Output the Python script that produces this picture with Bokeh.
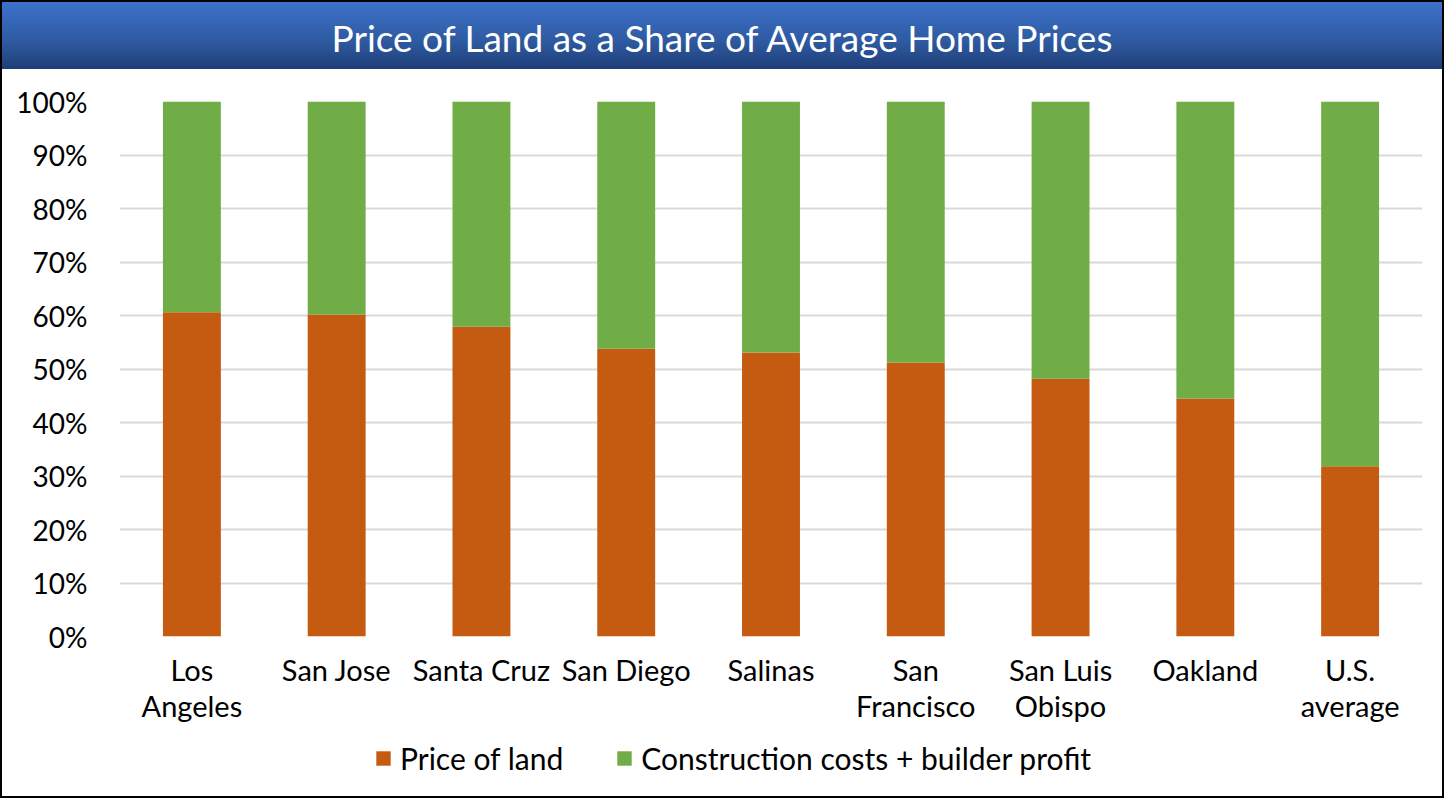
from bokeh.plotting import figure
from bokeh.layouts import column
from bokeh.models import (FactorRange, FixedTicker, NumeralTickFormatter, ColumnDataSource,
                          Range1d, Legend, Div)
from bokeh.embed import file_html
from bokeh.resources import INLINE

cities = ["Los\nAngeles", "San Jose", "Santa Cruz", "San Diego", "Salinas",
          "San\nFrancisco", "San Luis\nObispo", "Oakland", "U.S.\naverage"]
land_share = [0.606, 0.602, 0.579, 0.538, 0.531, 0.512, 0.482, 0.445, 0.318]
construction_share = [round(1 - v, 3) for v in land_share]
y_ticks = [0, 0.1, 0.2, 0.3, 0.4, 0.5, 0.6, 0.7, 0.8, 0.9, 1.0]
series_names = ["Price of land", "Construction costs + builder profit"]
series_colors = ["#C55A11", "#70AD47"]
title_text = "Price of Land as a Share of Average Home Prices"

FONT = "Lato"
W = 1440
BANNER_H = 67
MAIN_H = 662
LEG_H = 65

# ---------------- title banner ----------------
banner = Div(
    text=('<div style="width:%dpx;height:%dpx;line-height:72px;text-align:center;overflow:hidden;'
          'color:white;font-family:Lato;font-size:37px;white-space:nowrap;">%s</div>')
         % (W, BANNER_H, title_text),
    width=W, height=BANNER_H,
    styles={"background": "linear-gradient(to bottom, #3C72CC 0%, #2E599F 60%, #1F3E78 100%)",
            "margin": "0", "padding": "0"})

# ---------------- main chart ----------------
src = ColumnDataSource(dict(city=cities, land=land_share, constr=construction_share))

p = figure(width=W, height=MAIN_H, x_range=FactorRange(factors=cities, range_padding=0),
           y_range=Range1d(0, 1), output_backend="svg", toolbar_location=None,
           min_border_left=117, min_border_right=20, min_border_top=32, min_border_bottom=95)

renderers = p.vbar_stack(["land", "constr"], x="city", width=0.4, color=series_colors,
                         line_color=None, source=src)

p.outline_line_color = None

p.yaxis.ticker = FixedTicker(ticks=y_ticks)
p.yaxis.formatter = NumeralTickFormatter(format="0%")
p.yaxis.axis_line_color = None
p.yaxis.major_tick_line_color = None
p.yaxis.minor_tick_line_color = None
p.yaxis.major_label_standoff = 26
p.yaxis.major_label_text_font = FONT
p.yaxis.major_label_text_font_size = "28px"
p.yaxis.major_label_text_color = "black"

ax = p.xaxis[0]
ax.axis_line_color = None
ax.major_tick_line_color = None
ax.major_tick_out = 0
ax.major_tick_in = 0
ax.major_label_standoff = 15
ax.major_label_text_font = FONT
ax.major_label_text_font_size = "29px"
ax.major_label_text_color = "black"
ax.major_label_text_line_height = 1.05

p.xgrid.grid_line_color = None
p.ygrid.grid_line_color = "#D9D9D9"
p.ygrid.grid_line_width = 2

# ---------------- legend strip ----------------
lf = figure(width=W, height=LEG_H, x_range=Range1d(0, 1), y_range=Range1d(0, 1),
            output_backend="svg", toolbar_location=None, x_axis_type=None, y_axis_type=None,
            min_border_left=117, min_border_right=20, min_border_top=0, min_border_bottom=0)
lf.outline_line_color = None
lf.xgrid.grid_line_color = None
lf.ygrid.grid_line_color = None
# swatch renderers placed far outside the visible ranges; they only feed the legend
leg_renderers = [lf.vbar(x=[-50.0], bottom=[-60.0], top=[-55.0], width=0.0001,
                         color=c, line_color=None)
                 for c in series_colors]

lg = Legend(items=[(series_names[0], [leg_renderers[0]]), (series_names[1], [leg_renderers[1]])],
            orientation="horizontal", location=(255, 20), border_line_color=None,
            background_fill_alpha=0, padding=0, margin=0, spacing=52,
            glyph_width=18, glyph_height=18, label_standoff=8,
            label_text_font=FONT, label_text_font_size="30px", label_text_color="black")
lf.add_layout(lg, "center")

layout = column(banner, p, lf, spacing=0, styles={"border": "2px solid black"})

open("out.html", "w").write(file_html(layout, INLINE))
